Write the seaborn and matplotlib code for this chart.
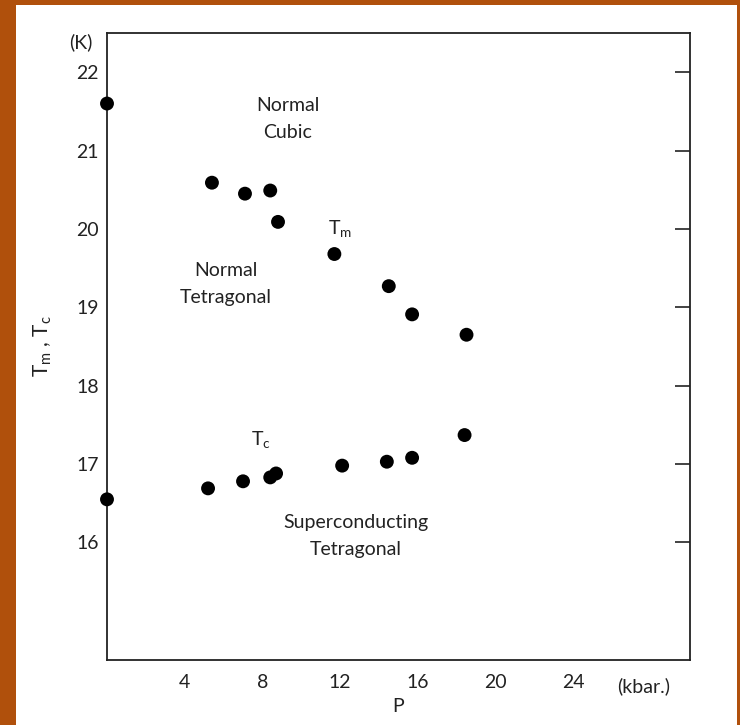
import pandas as pd
import matplotlib.pyplot as plt
import seaborn as sns
from matplotlib.patches import Rectangle

# pressure (kbar) and melting/transition temperatures (K)
p_tm = [0.0, 5.4, 7.1, 8.4, 8.8, 11.7, 14.5, 15.7, 18.5]
tm = [21.6, 20.59, 20.45, 20.49, 20.09, 19.68, 19.27, 18.91, 18.65]
p_tc = [0.0, 5.2, 7.0, 8.4, 8.7, 12.1, 14.4, 15.7, 18.4]
tc = [16.55, 16.69, 16.78, 16.83, 16.88, 16.98, 17.03, 17.08, 17.37]

x_ticks = [4, 8, 12, 16, 20, 24]
y_ticks = [16, 17, 18, 19, 20, 21, 22]

df = pd.DataFrame({
    'P': p_tm + p_tc,
    'T': tm + tc,
    'kind': ['Tm'] * len(tm) + ['Tc'] * len(tc),
})

sns.set_style('white')
plt.rcParams['font.family'] = ['Lato', 'DejaVu Sans']

fig = plt.figure(figsize=(7.4, 7.25), dpi=100)
fig.patch.set_facecolor('#b0500c')
# white slide panel behind the plot
fig.patches.append(Rectangle((16 / 740, 0), 721 / 740, 720 / 725,
                             transform=fig.transFigure, facecolor='white',
                             edgecolor='none', zorder=-5))

ax = fig.add_axes([107 / 740, 1 - 660 / 725, 583 / 740, 627 / 725])
ax.set_facecolor('none')
ax.set_zorder(2)

sns.scatterplot(data=df, x='P', y='T', hue='kind', palette=['black', 'black'],
                s=100, edgecolor='none', legend=False, ax=ax, clip_on=False,
                zorder=3)

ax.set_xlim(0, 30)
ax.set_ylim(14.5, 22.5)
ax.set_xticks(x_ticks)
ax.set_yticks(y_ticks)
ax.tick_params(axis='both', direction='in', length=11, width=1.2,
               labelsize=14, color='#222222', labelcolor='#222222')
ax.tick_params(axis='x', pad=10)
ax.tick_params(axis='y', right=True, pad=6)
for sp in ax.spines.values():
    sp.set_visible(True)
    sp.set_color('#222222')
    sp.set_linewidth(1.3)

ax.set_xlabel('P', fontsize=14, color='#222222', labelpad=5)
ax.set_ylabel('T$_\\mathregular{m}$ , T$_\\mathregular{c}$', fontsize=15,
              color='#222222', labelpad=16)
ax.text(-0.025, 0.986, '(K)', transform=ax.transAxes, ha='right', va='center',
        fontsize=14, color='#222222')
ax.text(0.92, -0.041, '(kbar.)', transform=ax.transAxes, ha='center',
        va='center', fontsize=14, color='#222222')

txt = dict(fontsize=14, color='#222222', ha='center', va='center',
           linespacing=1.75)
ax.text(9.3, 21.4, 'Normal\nCubic', **txt)
ax.text(6.1, 19.3, 'Normal\nTetragonal', **txt)
ax.text(12.0, 20.0, 'T$_\\mathregular{m}$', **txt)
ax.text(7.9, 17.3, 'T$_\\mathregular{c}$', **txt)
ax.text(12.8, 16.08, 'Superconducting\nTetragonal', **txt)

fig.savefig('out.png', dpi=100, facecolor=fig.get_facecolor())
